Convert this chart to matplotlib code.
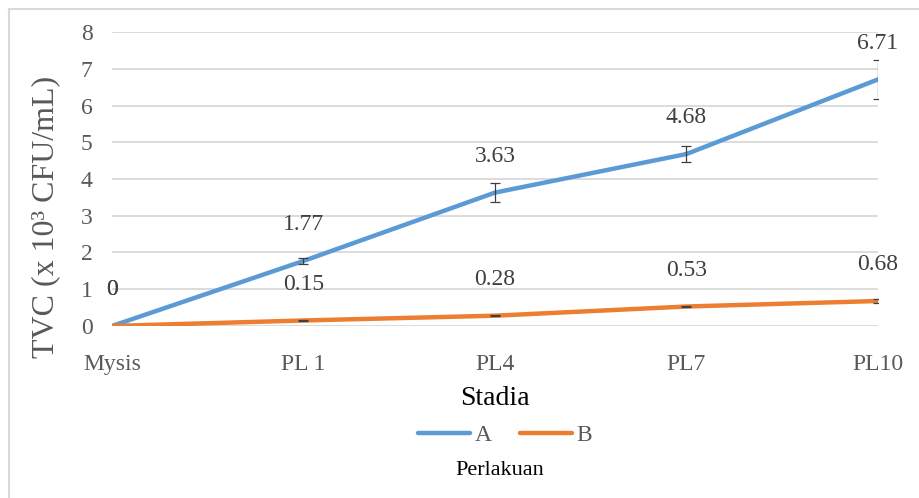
import numpy as np
import matplotlib.pyplot as plt
from matplotlib.lines import Line2D

plt.rcParams['font.family'] = 'serif'
plt.rcParams['font.serif'] = ['Liberation Serif', 'DejaVu Serif']

stages = ['Mysis', 'PL 1', 'PL4', 'PL7', 'PL10']
a_vals = [0, 1.77, 3.63, 4.68, 6.71]
b_vals = [0, 0.15, 0.28, 0.53, 0.68]
a_err = [0, 0.07, 0.26, 0.22, 0.53]
b_err = [0, 0.01, 0.01, 0.02, 0.05]

blue = '#5B9BD5'
orange = '#ED7D31'
grey = '#595959'

fig = plt.figure(figsize=(9.2, 4.98), dpi=100)
ax = fig.add_axes([0.1217, 0.3454, 0.8326, 0.5903])
x = np.arange(len(stages))

ax.plot(x, a_vals, color=blue, lw=3.2, label='A', solid_capstyle='round', zorder=3)
ax.plot(x, b_vals, color=orange, lw=3.2, label='B', solid_capstyle='round', zorder=3)
ax.errorbar(x[1:], a_vals[1:], yerr=a_err[1:], fmt='none', ecolor='#404040',
            elinewidth=0.9, capsize=3.5, capthick=0.9, zorder=4)
ax.errorbar(x[1:], b_vals[1:], yerr=b_err[1:], fmt='none', ecolor='#404040',
            elinewidth=0.9, capsize=3.5, capthick=0.9, zorder=4)

# value labels above each point
for vals in (a_vals, b_vals):
    for xi, v in zip(x, vals):
        txt = '0' if v == 0 else f'{v:.2f}'
        ax.annotate(txt, (xi, v), xytext=(0, 26), textcoords='offset points',
                    ha='center', va='center', fontsize=17, color='#404040')

ax.set_xlim(0, 4)
ax.set_ylim(0, 8)
ax.set_yticks(range(9))
ax.set_xticks(x)
ax.set_xticklabels(stages)
ax.yaxis.grid(True, color='#D9D9D9', lw=1.3)
ax.set_axisbelow(True)
for s in ax.spines.values():
    s.set_visible(False)
ax.tick_params(length=0, labelsize=17, colors=grey)
ax.tick_params(axis='y', pad=14)
ax.tick_params(axis='x', pad=20)

ax.set_ylabel('TVC (x 10³ CFU/mL)', fontsize=23, color=grey)
ax.yaxis.set_label_coords(-0.067, 0.37)
ax.set_xlabel('Stadia', fontsize=20, color='black', labelpad=8)

leg = fig.legend(loc='center', bbox_to_anchor=(0.549, 0.126), ncol=2, frameon=False,
                 fontsize=17, handlelength=2.2, columnspacing=1.2, handletextpad=0.2)
for t in leg.get_texts():
    t.set_color(grey)
fig.text(0.543, 0.056, 'Perlakuan', ha='center', va='center', fontsize=16)

# frame edges on the left and top
fig.lines.append(Line2D([9 / 920, 9 / 920], [0, 1 - 9 / 498], transform=fig.transFigure,
                        color='#D9D9D9', lw=1.5))
fig.lines.append(Line2D([9 / 920, 1], [1 - 9 / 498, 1 - 9 / 498], transform=fig.transFigure,
                        color='#D9D9D9', lw=1.5))

fig.savefig('out.png', dpi=100)
